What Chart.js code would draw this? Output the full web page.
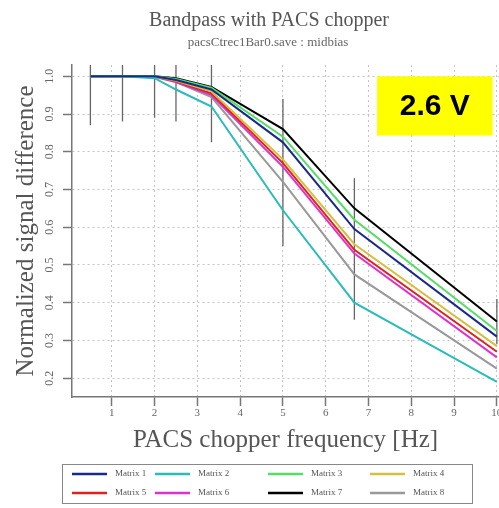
<!DOCTYPE html>
<html>
<head>
<meta charset="utf-8">
<title>Bandpass with PACS chopper</title>
<script src="https://cdn.jsdelivr.net/npm/chart.js@4.4.1/dist/chart.umd.min.js"></script>
<style>
  html, body { margin: 0; padding: 0; background: #fff; }
  #wrap { width: 499px; height: 508px; }
</style>
</head>
<body>
<div id="wrap"><canvas id="bandpass" width="499" height="508"></canvas></div>
<script>
// chopper frequencies [Hz]
const frequencies = [0.5, 1.25, 2, 2.5, 3.33, 5, 6.67, 10];

// normalized signal difference per matrix
const matrix1 = [1.0, 1.0, 1.0, 0.990, 0.965, 0.825, 0.595, 0.310];
const matrix2 = [1.0, 1.0, 0.995, 0.965, 0.920, 0.645, 0.400, 0.190];
const matrix3 = [1.0, 1.0, 1.0, 0.993, 0.970, 0.840, 0.620, 0.325];
const matrix4 = [1.0, 1.0, 1.0, 0.988, 0.960, 0.780, 0.555, 0.285];
const matrix5 = [1.0, 1.0, 1.0, 0.987, 0.955, 0.770, 0.540, 0.270];
const matrix6 = [1.0, 1.0, 1.0, 0.985, 0.950, 0.760, 0.530, 0.255];
const matrix7 = [1.0, 1.0, 1.0, 0.995, 0.972, 0.860, 0.650, 0.350];
const matrix8 = [1.0, 1.0, 0.998, 0.985, 0.945, 0.720, 0.475, 0.225];

// error bar extent at each frequency
const errLow  = [0.87, 0.88, 0.89, 0.88, 0.825, 0.55, 0.355, 0.29];
const errHigh = [1.03, 1.03, 1.03, 1.03, 1.03, 0.94, 0.73, 0.41];

const seriesNames = ['Matrix 1', 'Matrix 2', 'Matrix 3', 'Matrix 4', 'Matrix 5', 'Matrix 6', 'Matrix 7', 'Matrix 8'];
const seriesValues = [matrix1, matrix2, matrix3, matrix4, matrix5, matrix6, matrix7, matrix8];

const xTicks = [1, 2, 3, 4, 5, 6, 7, 8, 9, 10];
const yTicks = [0.2, 0.3, 0.4, 0.5, 0.6, 0.7, 0.8, 0.9, 1.0];

const biasLabel = '2.6 V';

const colors = ['#1a2a8c', '#2bbcb8', '#55dd66', '#d4c040', '#dd2222', '#dd33cc', '#000000', '#999999'];
const serif = "'Liberation Serif', 'DejaVu Serif', serif";

const datasets = seriesNames.map((name, i) => ({
  label: name,
  data: frequencies.map((f, j) => ({ x: f, y: seriesValues[i][j] })),
  borderColor: colors[i],
  backgroundColor: colors[i],
  borderWidth: 2,
  pointRadius: 0,
  tension: 0,
  order: 0,
}));

// vertical error bars, one segment per frequency, split by null gaps
datasets.push({
  label: 'errors',
  data: frequencies.flatMap((f, j) => [{ x: f, y: errLow[j] }, { x: f, y: errHigh[j] }, { x: f, y: null }]),
  borderColor: '#666',
  borderWidth: 1.3,
  pointRadius: 0,
  spanGaps: false,
  order: 1,
});

const decorations = {
  id: 'decorations',
  afterDraw(chart) {
    const { ctx, scales } = chart;
    ctx.save();

    // titles
    ctx.textAlign = 'center';
    ctx.textBaseline = 'middle';
    ctx.fillStyle = '#555';
    ctx.font = '20px ' + serif;
    ctx.fillText('Bandpass with PACS chopper', 269, 21);
    ctx.fillStyle = '#666';
    ctx.font = '13px ' + serif;
    ctx.fillText('pacsCtrec1Bar0.save : midbias', 268, 43);

    // bias voltage box
    const x0 = scales.x.getPixelForValue(7.2), x1 = scales.x.getPixelForValue(9.9);
    const y0 = scales.y.getPixelForValue(1.0), y1 = scales.y.getPixelForValue(0.843);
    ctx.fillStyle = '#ffff00';
    ctx.fillRect(x0, y0, x1 - x0, y1 - y0);
    ctx.fillStyle = '#000';
    ctx.font = "bold 30px 'Liberation Sans', Arial, sans-serif";
    ctx.fillText(biasLabel, (x0 + x1) / 2, (y0 + y1) / 2 + 1);

    // legend
    ctx.strokeStyle = '#888';
    ctx.lineWidth = 1;
    ctx.strokeRect(62.5, 464.5, 410, 39);
    const colX = [72, 155, 268, 370];
    const rowY = [474, 493];
    ctx.font = '9px ' + serif;
    ctx.textAlign = 'left';
    chart.data.datasets.slice(0, seriesNames.length).forEach((ds, i) => {
      const lx = colX[i % 4], ly = rowY[Math.floor(i / 4)];
      ctx.strokeStyle = ds.borderColor;
      ctx.lineWidth = 2.5;
      ctx.beginPath();
      ctx.moveTo(lx, ly);
      ctx.lineTo(lx + 35, ly);
      ctx.stroke();
      ctx.fillStyle = '#555';
      ctx.fillText(ds.label, lx + 43, ly);
    });
    ctx.restore();
  }
};

const gridOpts = { color: '#c4c4c4', lineWidth: 1, tickColor: '#777', tickLength: 9, tickWidth: 1.5, tickBorderDash: [] };
const borderOpts = { color: '#777', width: 1.5, dash: [2, 3] };

new Chart(document.getElementById('bandpass'), {
  type: 'line',
  data: { datasets },
  options: {
    responsive: false,
    animation: false,
    layout: { padding: { left: 0, right: 0, top: 65, bottom: 51 } },
    plugins: {
      legend: { display: false },
      tooltip: { enabled: false },
    },
    scales: {
      x: {
        type: 'linear',
        min: 0.07,
        max: 10.05,
        afterBuildTicks: s => { s.ticks = xTicks.map(v => ({ value: v })); },
        afterFit: s => { s.height = 60; s.paddingLeft = 0; s.paddingRight = 0; },
        ticks: { padding: 1, color: '#666', font: { family: serif, size: 11 }, maxRotation: 0, autoSkip: false },
        grid: gridOpts,
        border: borderOpts,
        title: { display: true, text: 'PACS chopper frequency [Hz]', color: '#555', font: { family: serif, size: 25 }, padding: { top: 0, bottom: 2 } },
      },
      y: {
        type: 'linear',
        min: 0.15,
        max: 1.03,
        afterBuildTicks: s => { s.ticks = yTicks.map(v => ({ value: v })); },
        afterFit: s => { s.width = 72; s.paddingTop = 0; s.paddingBottom = 0; },
        ticks: {
          minRotation: 90, maxRotation: 90, crossAlign: 'center', padding: 6, autoSkip: false,
          color: '#666', font: { family: serif, size: 12 },
          callback: v => Number(v).toFixed(1),
        },
        grid: gridOpts,
        border: borderOpts,
        title: { display: true, text: 'Normalized signal difference', color: '#555', font: { family: serif, size: 25 }, padding: { top: 11, bottom: 0 } },
      },
    },
  },
  plugins: [decorations],
});
</script>
</body>
</html>
